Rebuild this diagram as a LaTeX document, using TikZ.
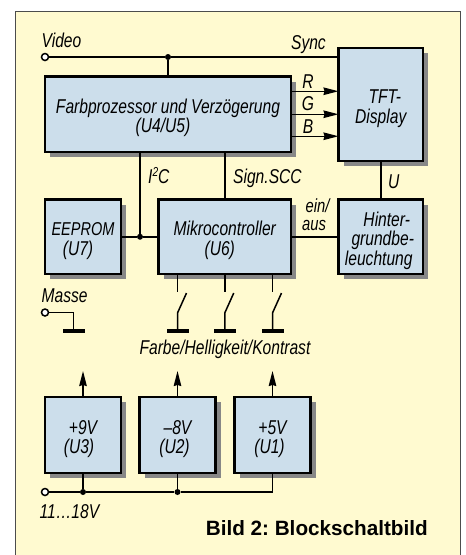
\documentclass[tikz,border=0pt]{standalone}
\usepackage{fontspec}
\usepackage{tikz}
\usetikzlibrary{positioning,arrows.meta,calc,backgrounds}
\newfontfamily\narrowfont[FakeStretch=0.78]{Liberation Sans}
\setsansfont{Liberation Sans}
\definecolor{PanelCream}{RGB}{255,250,208}
\definecolor{BlockBlue}{RGB}{204,222,235}
\definecolor{ShadowGrey}{RGB}{135,135,135}
\newcommand{\blockstrut}{\rule{0pt}{22pt}}
\tikzset{
  wire/.style={line width=1.5pt,draw=black},
  flow/.style={-{Stealth[length=15pt,width=7.5pt,inset=1pt]},line width=1.5pt,draw=black},
  blockbox/.style={draw=black,fill=BlockBlue,line width=2.2pt,outer sep=0pt,align=center,
    font=\narrowfont\itshape\fontsize{20}{19.5}\selectfont},
  labeltext/.style={font=\narrowfont\itshape\fontsize{20}{17}\selectfont,align=center,inner sep=0pt},
  terminal/.style={circle,draw=black,fill=white,line width=1.5pt,minimum size=7pt,inner sep=0pt},
  junction/.style={circle,fill=black,minimum size=6pt,inner sep=0pt},
  groundbar/.style={fill=black,minimum width=22pt,minimum height=3.2pt,inner sep=0pt,outer sep=0pt}
}
\begin{document}
\begin{tikzpicture}[x=1pt,y=-1pt]
  \useasboundingbox (0,0) rectangle (466,555);

  % blocks
  \node[blockbox,anchor=north west,minimum width=246pt,minimum height=75.5pt] (farb) at (45,76.5) {\blockstrut Farbprozessor und Verzögerung\\(U4/U5)\hspace*{10pt}};
  \node[blockbox,anchor=north west,minimum width=84.5pt,minimum height=113pt] (tft) at (338.5,48) {\blockstrut\hspace*{8pt}TFT-\\Display};
  \node[blockbox,below=47.5pt of farb.south west,anchor=north west,minimum width=76pt,minimum height=74.5pt] (eeprom) {\blockstrut{\fontsize{18.6}{19.5}\selectfont EEPROM}\\(U7)\hspace*{10pt}};
  \node[blockbox,right=37.5pt of eeprom,minimum width=132.5pt,minimum height=74.5pt] (mikro) {\blockstrut Mikrocontroller\\(U6)\hspace*{10pt}};
  \node[blockbox,right=47.5pt of mikro,minimum width=84.5pt,minimum height=74.5pt] (hinter) {\blockstrut\hspace*{12pt}Hinter-\\\hspace*{4pt}grundbe-\\leuchtung\hspace*{4pt}};
  \node[blockbox,below=123pt of eeprom.south west,anchor=north west,minimum width=76pt,minimum height=76pt] (uthree) {\blockstrut +9V\\(U3)\hspace*{8pt}};
  \node[blockbox,right=18.5pt of uthree,minimum width=76pt,minimum height=76pt] (utwo) {\blockstrut –8V\\(U2)\hspace*{6pt}};
  \node[blockbox,right=19pt of utwo,minimum width=76pt,minimum height=76pt] (uone) {\blockstrut +5V\\(U1)\hspace*{6pt}};

  % panel and shadows
  \begin{pgfonlayer}{background}
    \path[fill=PanelCream] (15,11) rectangle (460.5,555);
    \draw[black!70,line width=1pt] (15,555) -- (15,11) -- (460.5,11) -- (460.5,555);
    \foreach \base in {farb,tft,eeprom,mikro,hinter,uthree,utwo,uone}
      \fill[ShadowGrey] ($(\base.north west)+(5,5)$) rectangle ($(\base.south east)+(5,5)$);
  \end{pgfonlayer}

  % top row
  \node[terminal] (video) at (45,57) {};
  \node[junction] (vj) at (farb.north |- video) {};
  \node[labeltext,anchor=base west] (videotxt) at (41.5,47.5) {Video};
  \node[labeltext,anchor=base east] (synctxt) at (326,49.5) {Sync};
  \draw[wire] (video) -- (vj);
  \draw[wire] (vj) -- (vj -| tft.west);
  \draw[wire] (vj) -- (farb);

  % R G B
  \coordinate (rs) at ($(farb.east)+(0,-23)$);
  \coordinate (gs) at (farb.east);
  \coordinate (bs) at ($(farb.east)+(0,22)$);
  \draw[flow] (rs) -- (rs -| tft.west);
  \draw[flow] (gs) -- (gs -| tft.west);
  \draw[flow] (bs) -- (bs -| tft.west);
  \node[labeltext,anchor=base] (rtxt) at (308,88) {R};
  \node[labeltext,anchor=base] (gtxt) at (308,110.5) {G};
  \node[labeltext,anchor=base] (btxt) at (308,133.5) {B};

  % bus and control lines
  \node[junction] (busj) at (140,0 |- eeprom.east) {};
  \draw[wire] (eeprom) -- (busj) -- (mikro);
  \draw[wire] (busj) -- (busj |- farb.south);
  \draw[wire] (mikro.north) -- (farb.south -| mikro.north);
  \draw[wire] (tft.south -| hinter.north) -- (hinter);
  \draw[wire] (mikro) -- (hinter);
  \node[labeltext,anchor=base west] (itxt) at (148,183) {I\raisebox{7pt}{\fontsize{13}{13}\selectfont 2}C};
  \node[labeltext,anchor=base west] (signtxt) at (233,183) {Sign.SCC};
  \node[labeltext,anchor=base west] (utxt) at (388,188) {U};
  \node[labeltext,anchor=base,font=\narrowfont\itshape\fontsize{19}{18}\selectfont] (eintxt) at (315,230.5) {\hspace*{5pt}ein/\\aus\hspace*{2pt}};

  % switches
  \foreach \name/\base in {a/utwo,b/mikro,c/uone}{
    \coordinate (top\name) at (\base.north |- 0,292);
    \coordinate (end\name) at ($(top\name)+(9,1)$);
    \coordinate (hinge\name) at ($(top\name)+(0,21)$);
    \node[groundbar] (gnd\name) at (\base.north |- 0,331) {};
    \draw[wire] (\base.north |- mikro.south) -- (top\name);
    \draw[wire] (end\name) -- (hinge\name) -- (gnd\name);
  }
  \node[labeltext,anchor=base] (bedtxt) at (225,354) {Farbe/Helligkeit/Kontrast};

  % masse
  \node[terminal] (masse) at (45,312.5) {};
  \node[groundbar] (gndm) at (73.5,331) {};
  \node[labeltext,anchor=base west] (massetxt) at (41.5,302.5) {Masse};
  \draw[wire] (masse) -| (gndm);

  % power
  \foreach \base in {uthree,utwo,uone}{
    \coordinate (out\base) at ($(\base.north)+(0,-26)$);
    \draw[flow] (\base) -- (out\base);
  }
  \node[terminal] (supply) at (45,492) {};
  \node[junction] (jthree) at (uthree.south |- supply) {};
  \node[junction] (jtwo) at (utwo.south |- supply) {};
  \draw[wire] (supply) -- (jthree) -- (jtwo) -| (uone);
  \draw[wire] (uthree) -- (jthree);
  \draw[wire] (utwo) -- (jtwo);
  \node[labeltext,anchor=base west] (supplytxt) at (39.5,518) {11…18V};
  \node[anchor=base east,inner sep=0pt,font=\sffamily\bfseries\fontsize{20.7}{22}\selectfont] (title) at (428,535) {\frenchspacing Bild 2: Blockschaltbild};
\end{tikzpicture}
\end{document}
